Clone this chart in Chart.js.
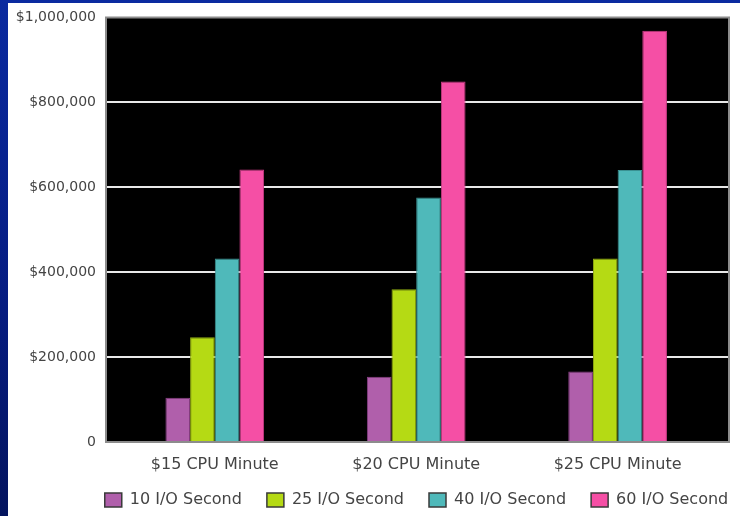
<!DOCTYPE html>
<html>
<head>
<meta charset="utf-8">
<script src="https://cdn.jsdelivr.net/npm/chart.js@4/dist/chart.umd.min.js"></script>
<style>
  html, body { margin: 0; padding: 0; }
  body {
    width: 740px; height: 516px; overflow: hidden; position: relative;
    background: linear-gradient(to bottom, #0a2aa0 0%, #061c80 60%, #04145e 100%);
  }
  #panel { position: absolute; left: 8px; top: 3px; width: 732px; height: 513px; background: #ffffff; }
  #c { position: absolute; left: 8px; top: 3px; }
</style>
</head>
<body>
<div id="panel"></div>
<canvas id="c" width="817" height="522"></canvas>
<script>
// ---- data ----
const categories = ['$15 CPU Minute', '$20 CPU Minute', '$25 CPU Minute'];
const seriesNames = ['10 I/O Second', '25 I/O Second', '40 I/O Second', '60 I/O Second'];
const io10 = [104000, 154000, 166000];
const io25 = [247000, 360000, 432000];
const io40 = [432000, 576000, 641000];
const io60 = [642000, 849000, 969000];
const yTicks = [0, 200000, 400000, 600000, 800000, 1000000];

const fills   = ['#b05fab', '#b5da14', '#4fb9ba', '#f54fa5'];
const borders = ['#8a3f86', '#8faa10', '#3a9192', '#c93a84'];

const seriesValues = [io10, io25, io40, io60];
const toPoints = arr => arr.map((v, i) => ({ x: i, y: v }));

const fmtMoney = v => v === 0 ? '0' : '$' + v.toLocaleString('en-US');

const plotBox = {
  id: 'plotBox',
  beforeDraw(chart) {
    const { ctx, chartArea: { left, top, right, bottom } } = chart;
    ctx.save();
    ctx.fillStyle = '#000000';
    ctx.fillRect(left, top, right - left, bottom - top);
    ctx.restore();
  },
  afterDatasetsDraw(chart) {
    const { ctx, chartArea: { left, top, right, bottom } } = chart;
    ctx.save();
    ctx.strokeStyle = '#8c8c8c';
    ctx.lineWidth = 2;
    ctx.strokeRect(left, top, right - left, bottom - top);
    ctx.restore();
  }
};

// pull the legend row up a little, closer to the category labels
const legendNudge = {
  id: 'legendNudge',
  afterLayout(chart) {
    const lg = chart.legend;
    if (lg) { lg.top -= 7; lg.bottom -= 7; }
  }
};

new Chart(document.getElementById('c'), {
  type: 'bar',
  data: {
    datasets: seriesNames.map((name, k) => ({
      label: name,
      data: toPoints(seriesValues[k]),
      backgroundColor: fills[k],
      borderColor: borders[k],
      borderWidth: 1,
      categoryPercentage: 0.49,
      barPercentage: 1.0
    }))
  },
  options: {
    responsive: false,
    animation: false,
    devicePixelRatio: 1,
    layout: { padding: { left: 0, right: 0, top: 14.5, bottom: 0 } },
    scales: {
      x: {
        type: 'linear',
        min: -0.54,
        max: 2.553,
        offset: false,
        grid: { display: false, drawTicks: false },
        border: { display: false },
        afterBuildTicks: s => { s.ticks = categories.map((_, i) => ({ value: i })); },
        afterFit: s => { s.height = 32; s.paddingLeft = 0; s.paddingRight = 0; },
        ticks: {
          padding: 14,
          color: '#444444',
          font: { family: 'DejaVu Sans', size: 16, lineHeight: 1.1 },
          maxRotation: 0,
          autoSkip: false,
          callback: v => categories[v] ?? ''
        }
      },
      y: {
        type: 'linear',
        position: 'left',
        min: 0,
        max: 1000000,
        afterBuildTicks: s => { s.ticks = yTicks.map(v => ({ value: v })); },
        afterFit: s => { s.width = 98; s.paddingTop = 0; s.paddingBottom = 0; },
        grid: {
          drawTicks: false,
          lineWidth: 2,
          color: c => (c.tick && (c.tick.value === 0 || c.tick.value === 1000000)) ? 'rgba(0,0,0,0)' : '#e8e8e8'
        },
        border: { display: false },
        ticks: {
          padding: 10,
          color: '#444444',
          font: { family: 'DejaVu Sans', size: 14 },
          callback: v => fmtMoney(v)
        }
      },
      yRight: {
        type: 'linear',
        position: 'right',
        display: true,
        grid: { display: false, drawTicks: false },
        border: { display: false },
        ticks: { display: false },
        afterFit: s => { s.width = 96; s.paddingTop = 0; s.paddingBottom = 0; }
      }
    },
    plugins: {
      tooltip: { enabled: false },
      legend: {
        position: 'bottom',
        align: 'center',
        labels: {
          boxWidth: 17,
          boxHeight: 14,
          padding: 25,
          color: '#444444',
          font: { family: 'DejaVu Sans', size: 16 },
          generateLabels: chart => {
            const items = Chart.defaults.plugins.legend.labels.generateLabels(chart);
            items.forEach(it => { it.strokeStyle = '#3a3a3a'; it.lineWidth = 1.5; });
            return items;
          }
        }
      }
    }
  },
  plugins: [plotBox, legendNudge]
});
</script>
</body>
</html>
